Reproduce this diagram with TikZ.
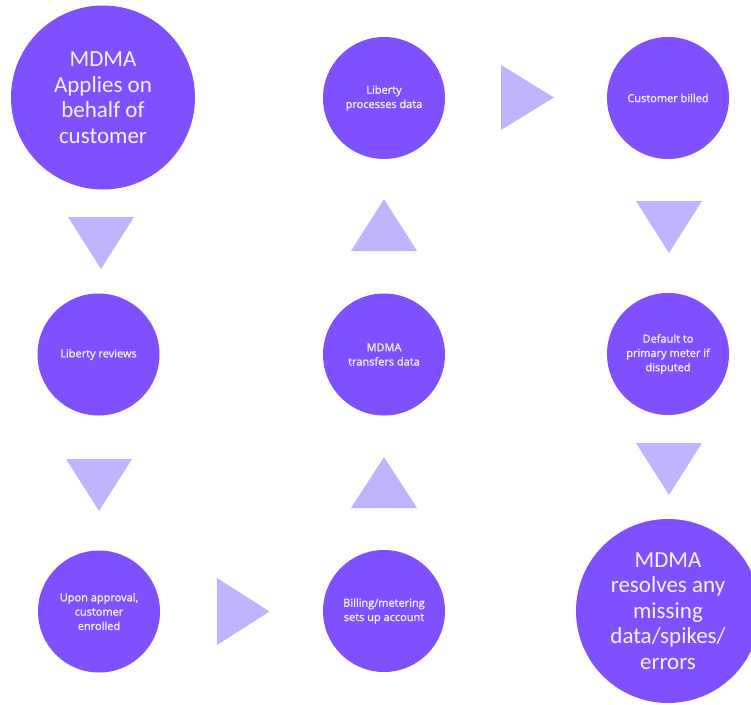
\documentclass[tikz,border=0pt]{standalone}
\usepackage{fontspec}
\setmainfont{Carlito}
\newfontfamily\smallfont[FakeBold=1.2]{Open Sans}
\definecolor{circfill}{RGB}{127,80,255}
\definecolor{trifill}{RGB}{190,180,255}
\definecolor{txt}{RGB}{245,243,255}
\tikzset{
  bigcirc/.style={circle, fill=circfill, draw=none, inner sep=0pt, minimum size=184pt,
    align=center, text=txt, font=\fontsize{23}{25.5}\selectfont},
  smallcirc/.style={circle, fill=circfill, draw=none, inner sep=0pt, minimum size=122pt,
    align=center, text=txt, font=\smallfont\fontsize{11}{14.3}\selectfont},
  tri/.style={fill=trifill, draw=none}
}
\begin{document}
\begin{tikzpicture}[x=1pt,y=-1pt]
\useasboundingbox (0,0) rectangle (751,704);
% circles
\node[bigcirc] (c1) at (103,97.5) {MDMA\\Applies on\\behalf of\\customer};
\node[smallcirc] (c2) at (98.5,354.5) {Liberty reviews};
\node[smallcirc] (c3) at (99,611.5) {Upon approval,\\customer\\enrolled};
\node[smallcirc] (c4) at (384,611) {Billing/metering\\sets up account};
\node[smallcirc] (c5) at (384,354.5) {MDMA\\transfers data};
\node[smallcirc] (c6) at (384,98) {Liberty\\processes data};
\node[smallcirc] (c7) at (668,98) {Customer billed};
\node[smallcirc] (c8) at (668,354) {Default to\\primary meter if\\disputed};
\node[bigcirc] (c9) at (668,611) {MDMA\\resolves any\\missing\\data/spikes/\\errors};
% triangles
\fill[tri] (68,217) -- (134,217) -- (101,269) -- cycle;
\fill[tri] (66,459) -- (132,459) -- (99,511) -- cycle;
\fill[tri] (217,578) -- (269.5,611.5) -- (217,645) -- cycle;
\fill[tri] (351,508) -- (417,508) -- (384,457) -- cycle;
\fill[tri] (351,251) -- (417,251) -- (384,199) -- cycle;
\fill[tri] (501,65) -- (554,97.5) -- (501,130) -- cycle;
\fill[tri] (636,201) -- (702,201) -- (669,253) -- cycle;
\fill[tri] (636,443) -- (702,443) -- (669,495) -- cycle;
\end{tikzpicture}
\end{document}
